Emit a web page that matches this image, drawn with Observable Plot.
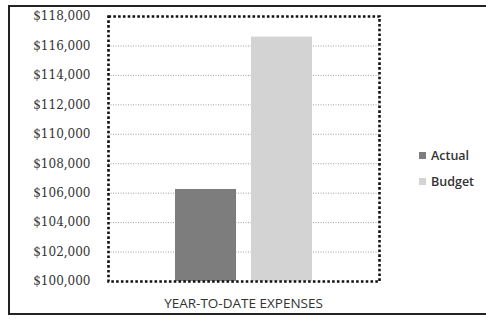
<!DOCTYPE html>
<html>
<head>
<meta charset="utf-8">
<script src="https://cdn.jsdelivr.net/npm/d3@7"></script>
<script src="https://cdn.jsdelivr.net/npm/@observablehq/plot@0.6"></script>
<style>
  html, body { margin: 0; padding: 0; background: #fff; overflow: hidden; width: 486px; height: 324px; }
  #wrap { position: relative; width: 486px; height: 324px; }
  #border { position: absolute; left: 8px; top: 5px; width: 490px; height: 310px; border: 2px solid #222; box-sizing: border-box; pointer-events: none; }
  #legend { position: absolute; left: 419px; top: 142px; font-family: "Open Sans", sans-serif; font-size: 12.5px; font-weight: 600; color: #333; }
  #legend div { display: flex; align-items: center; height: 26px; }
  #legend span.sw { display: inline-block; width: 7px; height: 7px; margin-right: 5px; }
  #xlabel { position: absolute; left: 108px; width: 271px; top: 294px; text-align: center; font-family: "Open Sans", sans-serif; font-size: 13.5px; color: #333; }
  #chart svg text { font-family: "DejaVu Serif", serif !important; }
</style>
</head>
<body>
<div id="wrap">
  <div id="chart"></div>
  <div id="xlabel"></div>
  <div id="legend"></div>
  <div id="border"></div>
</div>
<script>
const categories = ["Actual", "Budget"];
const values = [106250, 116600];
const colors = ["#7d7d7d", "#d3d3d3"];
const yTicks = [100000, 102000, 104000, 106000, 108000, 110000, 112000, 114000, 116000, 118000];
const xTitle = "YEAR-TO-DATE EXPENSES";
const yMin = 100000, yMax = 118000;

const data = categories.map((c, i) => ({category: c, value: values[i], base: yMin}));
const fmt = d3.format("$,");

const chart = Plot.plot({
  width: 486,
  height: 324,
  marginLeft: 108,
  marginRight: 107,
  marginTop: 16,
  marginBottom: 43,
  style: {background: "transparent", overflow: "visible", fontFamily: "DejaVu Serif", fontSize: "12px", color: "#333"},
  x: {domain: categories, paddingInner: 0.2, paddingOuter: 0.87, axis: null},
  y: {domain: [yMin, yMax], ticks: yTicks, tickFormat: fmt, label: null},
  color: {domain: categories, range: colors},
  marks: [
    Plot.ruleY(yTicks.filter(t => t > yMin && t < yMax), {stroke: "#888", strokeWidth: 0.8, strokeDasharray: "1,1.5"}),
    Plot.barY(data, {x: "category", y1: "base", y2: "value", fill: "category"}),
    Plot.frame({stroke: "#111", strokeWidth: 2.6, strokeDasharray: "2.6,2.2"}),
    Plot.axisY({ticks: yTicks, tickFormat: fmt, tickSize: 0, tickPadding: 18, label: null,
      fontFamily: "DejaVu Serif", fontSize: 12, fill: "#333"})
  ]
});
document.getElementById("chart").appendChild(chart);

document.getElementById("xlabel").textContent = xTitle;
const legend = document.getElementById("legend");
categories.forEach((c, i) => {
  const row = document.createElement("div");
  const sw = document.createElement("span");
  sw.className = "sw";
  sw.style.background = colors[i];
  row.appendChild(sw);
  row.appendChild(document.createTextNode(c));
  legend.appendChild(row);
});
</script>
</body>
</html>
